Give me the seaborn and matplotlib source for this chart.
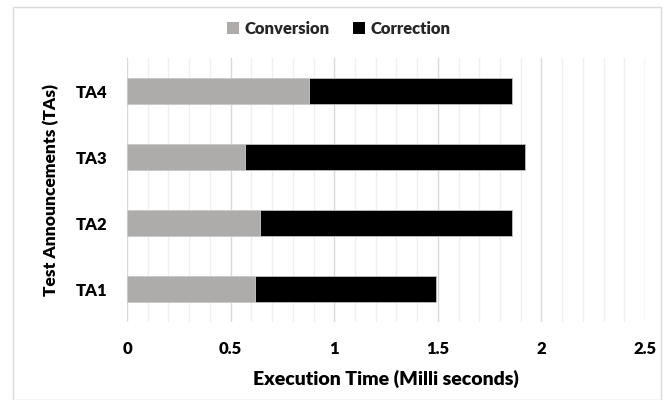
import matplotlib
matplotlib.use("Agg")
import matplotlib.pyplot as plt
from matplotlib.patches import Rectangle
from matplotlib.ticker import MultipleLocator
import seaborn as sns
import pandas as pd

# Execution time per test announcement (milliseconds)
announcements = ["TA1", "TA2", "TA3", "TA4"]
conversion = [0.62, 0.64, 0.57, 0.88]
correction = [0.87, 1.22, 1.35, 0.98]
x_ticks = [0, 0.5, 1, 1.5, 2, 2.5]
x_tick_labels = ["0", "0.5", "1", "1.5", "2", "2.5"]

sns.set_theme(style="white")
plt.rcParams["font.family"] = ["Lato", "DejaVu Sans"]

df = pd.DataFrame({
    "TA": announcements,
    "Conversion": conversion,
    "Correction": correction,
})
df["Total"] = df["Conversion"] + df["Correction"]
# top-to-bottom order as drawn
order = announcements[::-1]

fig = plt.figure(figsize=(6.7, 4.0), dpi=100)
ax = fig.add_axes([0.1896, 0.195, 0.7731, 0.66])

gray = "#AEAAAA"
sns.barplot(data=df, y="TA", x="Total", order=order, color="black",
            width=0.4, ax=ax, orient="h", label="Correction",
            edgecolor="#BFBFBF", linewidth=0.6, legend=False)
sns.barplot(data=df, y="TA", x="Conversion", order=order, color=gray,
            width=0.4, ax=ax, orient="h", label="Conversion",
            edgecolor="#CFCFCF", linewidth=0.6, legend=False)
if ax.get_legend() is not None:
    ax.get_legend().remove()

W = 800  # heavy bold text throughout

ax.set_xlim(0, 2.5)
ax.set_ylim(3.5, -0.5)
ax.xaxis.set_minor_locator(MultipleLocator(0.1))
ax.set_xticks(x_ticks)
ax.set_xticklabels(x_tick_labels)
ax.grid(which="major", axis="x", color="#D9D9D9", linewidth=1.0)
ax.grid(which="minor", axis="x", color="#EFEFEF", linewidth=0.9)
ax.set_axisbelow(True)
for s in ax.spines.values():
    s.set_visible(False)
ax.tick_params(axis="both", which="both", length=0)
ax.tick_params(axis="x", pad=14)
ax.tick_params(axis="y", pad=14)
for lbl in ax.get_xticklabels() + ax.get_yticklabels():
    lbl.set_fontweight(W)
    lbl.set_fontsize(12)
    lbl.set_color("black")

ax.set_xlabel("Execution Time (Milli seconds)", fontsize=14,
              fontweight=W, labelpad=9, color="black")
ax.set_ylabel("Test Announcements (TAs)", fontsize=12.5,
              fontweight=W, labelpad=12, color="black")

conv_patch = Rectangle((0, 0), 1, 1, facecolor=gray, edgecolor="none")
corr_patch = Rectangle((0, 0), 1, 1, facecolor="black", edgecolor="none")
fig.legend([conv_patch, corr_patch], ["Conversion", "Correction"],
           loc="center", bbox_to_anchor=(0.505, 0.928), ncol=2, frameon=False,
           handlelength=0.75, handleheight=0.75, handletextpad=0.3,
           columnspacing=1.4, prop={"weight": W, "size": 12})

# chart outline
fig.patches.append(Rectangle((0.02, 0.0), 0.967, 0.983, transform=fig.transFigure,
                             fill=False, edgecolor="#D9D9D9", linewidth=1.0))

fig.savefig("out.png", dpi=100)
